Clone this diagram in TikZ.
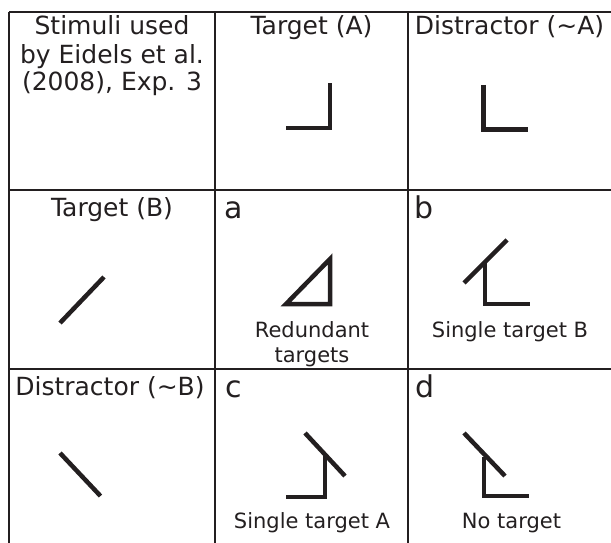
\documentclass[tikz,border=0pt]{standalone}
\usepackage{fontspec}
\setmainfont{DejaVu Sans}
\usepackage{xcolor}
\usepackage{tikz}
\usetikzlibrary{positioning}
\definecolor{ink}{RGB}{35,31,32}
\tikzset{
    grid/.style={
        draw=ink,
        line width=2pt
    },
    stim/.style={
        draw=ink,
        line width=4.5pt,
        line join=miter
    },
    head/.style={
        text=ink,
        font=\fontsize{25}{28}\selectfont,
        inner sep=0pt,
        anchor=base
    },
    letter/.style={
        text=ink,
        font=\fontsize{30}{30}\selectfont,
        inner sep=0pt,
        anchor=base west
    },
    caption/.style={
        text=ink,
        font=\fontsize{21}{25}\selectfont,
        inner sep=0pt,
        anchor=base,
        align=center
    }
}

\begin{document}
\begin{tikzpicture}[x=1pt,y=-1pt]
    \useasboundingbox (0,0) rectangle (611,543);
    % table lines
    \draw [grid] (9,12) -- (611,12);
    \draw [grid] (9,190) -- (611,190);
    \draw [grid] (9,369) -- (611,369);
    \draw [grid] (9,12) -- (9,543);
    \draw [grid] (215,12) -- (215,543);
    \draw [grid] (408,12) -- (408,543);
    % headers (base of a multi-line node is its last line)
    \node (stimuli) [head, align=center] at (112,91) {Stimuli used\\by Eidels et al.\\(2008), Exp. 3};
    \node (targetA) [head] at (311.5,35) {Target (A)};
    \node (distA) [head] at (509.5,35) {Distractor (\textasciitilde A)};
    \node (targetB) [head] at (112,216) {Target (B)};
    \node (distB) [head] at (110,395) {Distractor (\textasciitilde B)};
    \node (lblA) [letter] at (224,218) {a};
    \node (lblB) [letter] at (414,218) {b};
    \node (lblC) [letter] at (225,397) {c};
    \node (lblD) [letter] at (415,397) {d};
    \node (redundant) [caption] at (312,362) {Redundant\\targets};
    \node (singleB) [caption] at (510,337) {Single target B};
    \node (singleA) [caption] at (312,528) {Single target A};
    \node (none) [caption] at (511.5,528) {No target};
    % stimuli
    \draw [stim] (286,128) -- (330,128) -- (330,83);
    \draw [stim] (483.5,85) -- (483.5,129.5) -- (528,129.5);
    \draw [stim] (60,323) -- (104,277);
    \draw [stim] (286,304) -- (330,304) -- (330,259) -- cycle;
    \draw [stim] (464,283) -- (507,240);
    \draw [stim] (485,262) -- (485,304) -- (530,304);
    \draw [stim] (60,453) -- (100.5,496);
    \draw [stim] (305,433) -- (345,476);
    \draw [stim] (286,497) -- (325,497) -- (325,456);
    \draw [stim] (464,433) -- (505,476);
    \draw [stim] (484,457) -- (484,496) -- (529,496);
\end{tikzpicture}
\end{document}
